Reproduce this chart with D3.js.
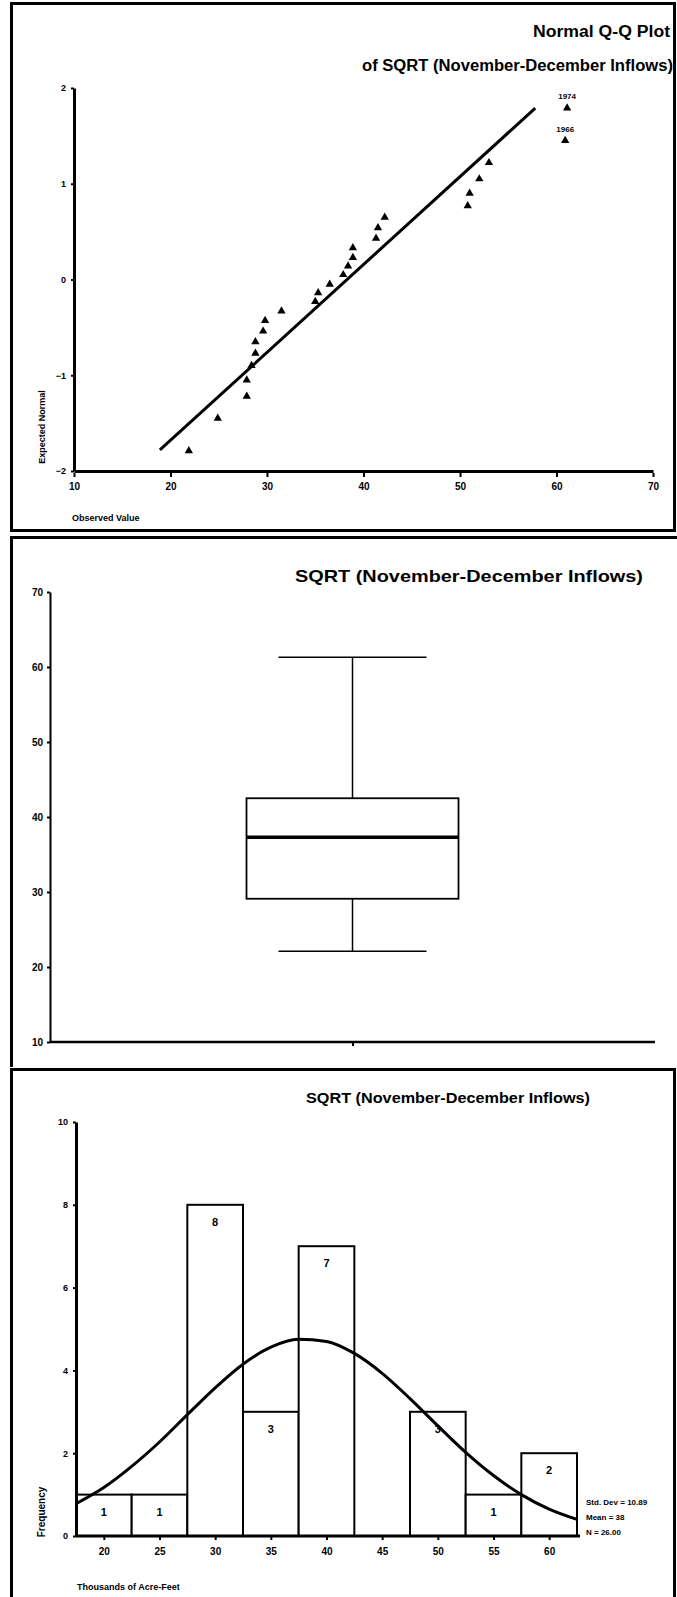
<!DOCTYPE html>
<html><head><meta charset="utf-8">
<script src="https://cdn.jsdelivr.net/npm/d3@7"></script>
<style>
html,body{margin:0;padding:0;background:#fff;}
svg text{font-family:"Liberation Sans",Arial,sans-serif;font-weight:bold;fill:#000;}
</style></head>
<body><div id="chart"></div>
<script>
// ---------- DATA ----------
// Q-Q plot: observed values and expected normal quantiles
const qqObserved = [21.9,24.9,27.9,27.9,28.4,28.8,28.8,29.6,29.8,31.5,35.0,35.3,36.5,37.9,38.4,38.9,38.9,41.3,41.5,42.2,50.8,51.0,52.0,53.0,60.9,61.1];
const qqExpected = [-1.79,-1.45,-1.22,-1.05,-0.90,-0.77,-0.65,-0.54,-0.43,-0.33,-0.23,-0.14,-0.05,0.05,0.14,0.23,0.33,0.43,0.54,0.65,0.77,0.90,1.05,1.22,1.45,1.79];
const qqLabels = {24:"1966",25:"1974"};
const qqLineX = [18.9, 57.8];
const qqLineY = [-1.78, 1.79];
const qqXTicks = [10,20,30,40,50,60,70];
const qqYTicks = [-2,-1,0,1,2];

// Box plot
const boxStats = {min:22.1, q1:29.1, median:37.3, q3:42.5, max:61.3};
const boxYTicks = [10,20,30,40,50,60,70];

// Histogram
const binStarts = [17.5,22.5,27.5,32.5,37.5,42.5,47.5,52.5,57.5];
const binCounts = [1,1,8,3,7,0,3,1,2];
const histXTicks = [20,25,30,35,40,45,50,55,60];
const histYTicks = [0,2,4,6,8,10];
const curveX = [17.5,20,22.5,25,27.5,30,32.5,35,37.5,40,42.5,45,47.5,50,52.5,55,57.5,60,62.5];
const curveY = [0.78,1.17,1.68,2.27,2.93,3.58,4.15,4.56,4.75,4.70,4.41,3.93,3.32,2.66,2.02,1.46,1.00,0.65,0.40];
const statsLines = ["Std. Dev = 10.89","Mean = 38","N = 26.00"];

// ---------- DRAW ----------
const W=677,H=1597;
const svg=d3.select("#chart").append("svg").attr("width",W).attr("height",H);
svg.append("rect").attr("width",W).attr("height",H).attr("fill","#fff");

// panel borders
svg.append("rect").attr("x",11.5).attr("y",3.5).attr("width",663).attr("height",527)
  .attr("fill","none").attr("stroke","#000").attr("stroke-width",3);
svg.append("path").attr("d","M11.5,1067 V537.5 H677").attr("fill","none").attr("stroke","#000").attr("stroke-width",3);
svg.append("path").attr("d","M11.5,1597 V1069.5 H674.5 V1597").attr("fill","none").attr("stroke","#000").attr("stroke-width",3);

function styleAxis(g, sw){
  g.select(".domain").attr("stroke","#000").attr("stroke-width",sw);
  g.selectAll(".tick line").attr("stroke","#000").attr("stroke-width",2);
}

// ===== Panel 1: Q-Q =====
const qx=d3.scaleLinear().domain([10,70]).range([74,653]);
const qy=d3.scaleLinear().domain([-2,2]).range([471,88]);

const gqx=svg.append("g").attr("transform","translate(0,471)")
  .call(d3.axisBottom(qx).tickValues(qqXTicks).tickSize(4).tickSizeOuter(0).tickPadding(8));
styleAxis(gqx,3);
gqx.selectAll(".tick line").attr("transform","translate(0,2)");
gqx.selectAll(".tick text").attr("font-size",10).attr("font-family","Liberation Sans").attr("font-weight","bold");

const gqy=svg.append("g").attr("transform","translate(74,0)")
  .call(d3.axisLeft(qy).tickValues(qqYTicks).tickSize(3).tickSizeOuter(0).tickPadding(5).tickFormat(d3.format("d")));
styleAxis(gqy,3);
gqy.selectAll(".tick text").attr("font-size",9).attr("font-family","Liberation Sans").attr("font-weight","bold");

// line
svg.append("line").attr("x1",qx(qqLineX[0])).attr("y1",qy(qqLineY[0]))
  .attr("x2",qx(qqLineX[1])).attr("y2",qy(qqLineY[1]))
  .attr("stroke","#000").attr("stroke-width",3);

// points
const tri=d3.symbol().type(d3.symbolTriangle).size(30);
svg.append("g").selectAll("path").data(qqObserved).join("path")
  .attr("d",tri).attr("fill","#000")
  .attr("transform",(d,i)=>`translate(${qx(d)},${qy(qqExpected[i])})`);
svg.append("g").selectAll("text").data(Object.keys(qqLabels)).join("text")
  .attr("x",k=>qx(qqObserved[k])).attr("y",k=>qy(qqExpected[k])-9)
  .attr("text-anchor","middle").attr("font-size",8).text(k=>qqLabels[k]);

// titles
svg.append("text").attr("x",670).attr("y",37).attr("text-anchor","end").attr("font-size",16)
  .attr("textLength",137).attr("lengthAdjust","spacingAndGlyphs").text("Normal Q-Q Plot");
svg.append("text").attr("x",673).attr("y",71).attr("text-anchor","end").attr("font-size",16)
  .attr("textLength",311).attr("lengthAdjust","spacingAndGlyphs").text("of SQRT (November-December Inflows)");
svg.append("text").attr("transform","translate(45,427) rotate(-90)").attr("text-anchor","middle")
  .attr("font-size",9).text("Expected Normal");
svg.append("text").attr("x",72).attr("y",521).attr("font-size",9).text("Observed Value");

// ===== Panel 2: Box =====
const by=d3.scaleLinear().domain([10,70]).range([1042,592]);
const bx=d3.scalePoint().domain(["SQRT"]).range([50,655]).padding(0.5);
const gby=svg.append("g").attr("transform","translate(50,0)")
  .call(d3.axisLeft(by).tickValues(boxYTicks).tickSize(3).tickSizeOuter(0).tickPadding(4));
styleAxis(gby,2);
gby.selectAll(".tick text").attr("font-size",10).attr("font-family","Liberation Sans").attr("font-weight","bold");
const gbx=svg.append("g").attr("transform","translate(0,1042)")
  .call(d3.axisBottom(bx).tickSize(4).tickSizeOuter(0).tickFormat(""));
styleAxis(gbx,2.5);
gbx.select(".domain").attr("d","M50,0H655");

const cx=bx("SQRT");
const bg=svg.append("g").attr("stroke","#000").attr("fill","none");
bg.append("line").attr("x1",cx).attr("x2",cx).attr("y1",by(boxStats.max)).attr("y2",by(boxStats.q3)).attr("stroke-width",1.5);
bg.append("line").attr("x1",cx).attr("x2",cx).attr("y1",by(boxStats.q1)).attr("y2",by(boxStats.min)).attr("stroke-width",1.5);
bg.append("line").attr("x1",cx-74).attr("x2",cx+74).attr("y1",by(boxStats.max)).attr("y2",by(boxStats.max)).attr("stroke-width",1.5);
bg.append("line").attr("x1",cx-74).attr("x2",cx+74).attr("y1",by(boxStats.min)).attr("y2",by(boxStats.min)).attr("stroke-width",1.5);
bg.append("rect").attr("x",cx-106).attr("width",212).attr("y",by(boxStats.q3)).attr("height",by(boxStats.q1)-by(boxStats.q3)).attr("stroke-width",1.8);
bg.append("line").attr("x1",cx-106).attr("x2",cx+106).attr("y1",by(boxStats.median)).attr("y2",by(boxStats.median)).attr("stroke-width",3.5);

svg.append("text").attr("x",295).attr("y",582).attr("font-size",17)
  .attr("textLength",348).attr("lengthAdjust","spacingAndGlyphs").text("SQRT (November-December Inflows)");

// ===== Panel 3: Histogram =====
const hx=d3.scaleLinear().domain([17.5,62.5]).range([76,577]);
const hy=d3.scaleLinear().domain([0,10]).range([1536,1122]);

// bars
const bars=svg.append("g");
binStarts.forEach((b,i)=>{
  if(binCounts[i]<=0) return;
  bars.append("rect").attr("x",hx(b)).attr("width",hx(b+5)-hx(b))
    .attr("y",hy(binCounts[i])).attr("height",hy(0)-hy(binCounts[i]))
    .attr("fill","#fff").attr("stroke","#000").attr("stroke-width",2);
  bars.append("text").attr("x",hx(b+2.5)).attr("y",hy(binCounts[i])+21)
    .attr("text-anchor","middle").attr("font-size",11).text(binCounts[i]);
});

const ghx=svg.append("g").attr("transform","translate(0,1536)")
  .call(d3.axisBottom(hx).tickValues(histXTicks).tickSize(4).tickSizeOuter(0).tickPadding(8));
styleAxis(ghx,3);
ghx.select(".domain").attr("d","M76,0H580");
ghx.selectAll(".tick text").attr("font-size",10).attr("font-family","Liberation Sans").attr("font-weight","bold");
const ghy=svg.append("g").attr("transform","translate(76,0)")
  .call(d3.axisLeft(hy).tickValues(histYTicks).tickSize(3).tickSizeOuter(0).tickPadding(5));
styleAxis(ghy,3);
ghy.selectAll(".tick text").attr("font-size",9).attr("font-family","Liberation Sans").attr("font-weight","bold");

// normal curve
svg.append("path").datum(curveX.map((x,i)=>[x,curveY[i]]))
  .attr("d",d3.line().x(d=>hx(d[0])).y(d=>hy(d[1])).curve(d3.curveMonotoneX))
  .attr("fill","none").attr("stroke","#000").attr("stroke-width",3);

svg.append("text").attr("x",306).attr("y",1103).attr("font-size",15)
  .attr("textLength",284).attr("lengthAdjust","spacingAndGlyphs").text("SQRT (November-December Inflows)");
svg.append("text").attr("transform","translate(45,1512) rotate(-90)").attr("text-anchor","middle")
  .attr("font-size",10).text("Frequency");
svg.append("text").attr("x",77).attr("y",1590).attr("font-size",9).text("Thousands of Acre-Feet");
svg.append("g").selectAll("text").data(statsLines).join("text")
  .attr("x",586).attr("y",(d,i)=>1505+i*15).attr("font-size",8).text(d=>d);
</script>
</body></html>
